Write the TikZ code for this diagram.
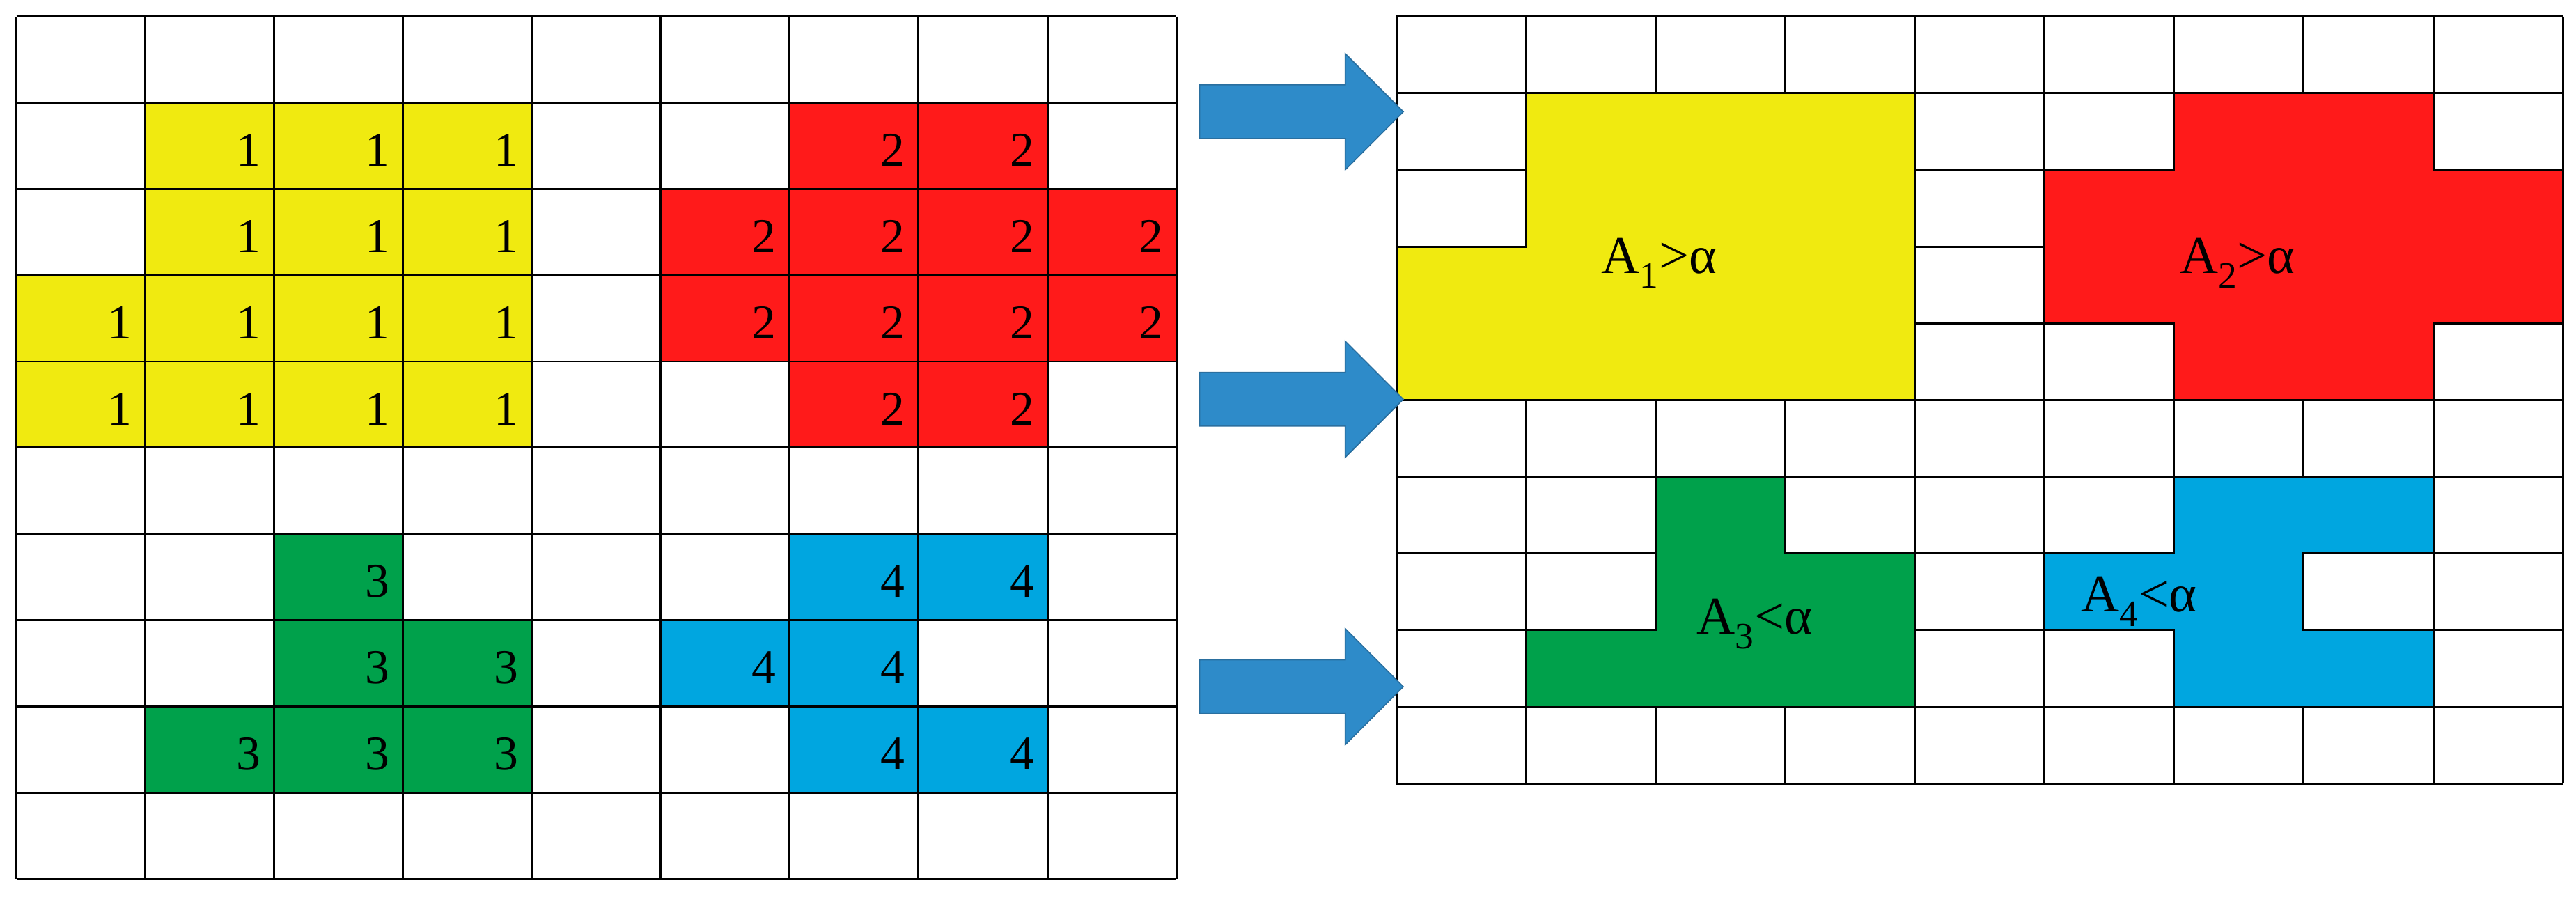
\documentclass[tikz,border=0pt]{standalone}
\usepackage{fontspec}
\setmainfont{Liberation Serif}
\usetikzlibrary{shapes.arrows}
\definecolor{cy}{HTML}{F0EA10}
\definecolor{cr}{HTML}{FF1A1A}
\definecolor{cg}{HTML}{00A14B}
\definecolor{cb}{HTML}{00A6E0}
\definecolor{ca}{HTML}{2E8BC9}
\definecolor{cae}{HTML}{2A6F9F}
\begin{document}
\begin{tikzpicture}[x=0.5mm,y=-0.5mm,
  gl/.style={line width=1.8pt,black},
  num/.style={anchor=east,inner sep=0pt,font=\fontsize{42}{42}\selectfont},
  lab/.style={font=\fontsize{46}{46}\selectfont},
  arr/.style={single arrow,fill=ca,draw=cae,line width=1pt,minimum height=62mm,single arrow head extend=9.5mm,inner xsep=0pt,inner ysep=8mm}]
\useasboundingbox (0,0) rectangle (1568,547);
\def\lcw{78.444}\def\lrh{52.5}
\foreach \c/\r/\col/\n in {1/1/cy/1,2/1/cy/1,3/1/cy/1,1/2/cy/1,2/2/cy/1,3/2/cy/1,0/3/cy/1,1/3/cy/1,2/3/cy/1,3/3/cy/1,0/4/cy/1,1/4/cy/1,2/4/cy/1,3/4/cy/1,
  6/1/cr/2,7/1/cr/2,5/2/cr/2,6/2/cr/2,7/2/cr/2,8/2/cr/2,5/3/cr/2,6/3/cr/2,7/3/cr/2,8/3/cr/2,6/4/cr/2,7/4/cr/2,
  2/6/cg/3,2/7/cg/3,3/7/cg/3,1/8/cg/3,2/8/cg/3,3/8/cg/3,
  6/6/cb/4,7/6/cb/4,5/7/cb/4,6/7/cb/4,6/8/cb/4,7/8/cb/4}{
  \fill[\col] ({10+\c*\lcw},{10+\r*\lrh}) rectangle ({10+(\c+1)*\lcw},{10+(\r+1)*\lrh});
  \node[num] (n\c-\r) at ({10+(\c+1)*\lcw-8},{10+(\r+0.55)*\lrh}) {\n};
}
\foreach \i in {0,...,9} \draw[gl] ({10+\i*\lcw},10) -- ({10+\i*\lcw},535);
\foreach \j in {0,...,10} \draw[gl] (10,{10+\j*\lrh}) -- (716,{10+\j*\lrh});
\foreach \i in {0,...,9} \draw[gl] ({850+\i*78.889},10) -- ({850+\i*78.889},477);
\foreach \j in {0,...,10} \draw[gl] (850,{10+\j*46.7}) -- (1560,{10+\j*46.7});
\filldraw[gl,fill=cy] (928.9,56.7)--(1165.6,56.7)--(1165.6,243.5)--(850,243.5)--(850,150.1)--(928.9,150.1)--cycle;
\filldraw[gl,fill=cr] (1323.3,56.7)--(1481.1,56.7)--(1481.1,103.4)--(1560,103.4)--(1560,196.8)--(1481.1,196.8)--(1481.1,243.5)--(1323.3,243.5)--(1323.3,196.8)--(1244.4,196.8)--(1244.4,103.4)--(1323.3,103.4)--cycle;
\filldraw[gl,fill=cg] (1007.8,290.2)--(1086.7,290.2)--(1086.7,336.9)--(1165.6,336.9)--(1165.6,430.3)--(928.9,430.3)--(928.9,383.6)--(1007.8,383.6)--cycle;
\filldraw[gl,fill=cb] (1323.3,290.2)--(1481.1,290.2)--(1481.1,336.9)--(1402.2,336.9)--(1402.2,383.6)--(1481.1,383.6)--(1481.1,430.3)--(1323.3,430.3)--(1323.3,383.6)--(1244.4,383.6)--(1244.4,336.9)--(1323.3,336.9)--cycle;
\node[lab] (a1) at (1010,160) {A\textsubscript{1}>α};
\node[lab] (a2) at (1362,160) {A\textsubscript{2}>α};
\node[lab] (a3) at (1068,380) {A\textsubscript{3}<α};
\node[lab] (a4) at (1302,366) {A\textsubscript{4}<α};
\node[arr] (r1) at (784,68) {};
\node[arr] (r2) at (784,243) {};
\node[arr] (r3) at (784,418) {};
\end{tikzpicture}
\end{document}
